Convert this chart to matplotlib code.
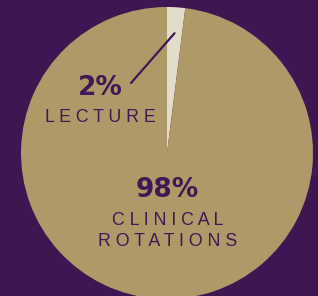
import matplotlib
matplotlib.use("Agg")
from matplotlib import pyplot as plt
import numpy as np

labels = ["LECTURE", "CLINICAL\nROTATIONS"]
shares = [2, 98]
colors = ["#e4dccb", "#ae9a68"]
purple = "#3b1852"
ink = "#3d1a55"

def spaced(s):
    # crude letter spacing
    return "\n".join(" ".join(line) for line in s.split("\n"))

fig = plt.figure(figsize=(3.18, 2.96), dpi=100, facecolor=purple)
ax = fig.add_axes([0, 0, 1, 1])
ax.set_facecolor(purple)

R = 146
wedges, _ = ax.pie(shares, colors=colors, startangle=90, counterclock=False,
                   radius=R, center=(0, 0), wedgeprops=dict(linewidth=0))
ax.set_xlim(-167, 151)
ax.set_ylim(-143, 153)
ax.set_aspect("equal")
ax.axis("off")

# leader line into the small slice
mid = np.deg2rad(90 - shares[0] / 100 * 360 / 2)
ax.annotate("", xy=(120 * np.cos(mid), 120 * np.sin(mid)), xytext=(-36, 70),
            arrowprops=dict(arrowstyle="-", color=ink, lw=1.6, shrinkA=0, shrinkB=0))

ax.text(-67, 65, "%d%%" % shares[0], ha="center", va="center", fontsize=19,
        fontweight="bold", color=ink, family="DejaVu Sans")
ax.text(-67, 36, spaced(labels[0]), ha="center", va="center", fontsize=12.8,
        color=ink, family="Liberation Sans")
ax.text(0, -37, "%d%%" % shares[1], ha="center", va="center", fontsize=19,
        fontweight="bold", color=ink, family="DejaVu Sans")
ax.text(1, -78, spaced(labels[1]), ha="center", va="center", fontsize=12.8,
        color=ink, family="Liberation Sans", linespacing=1.3)

fig.savefig("out.png", dpi=100, facecolor=purple)
